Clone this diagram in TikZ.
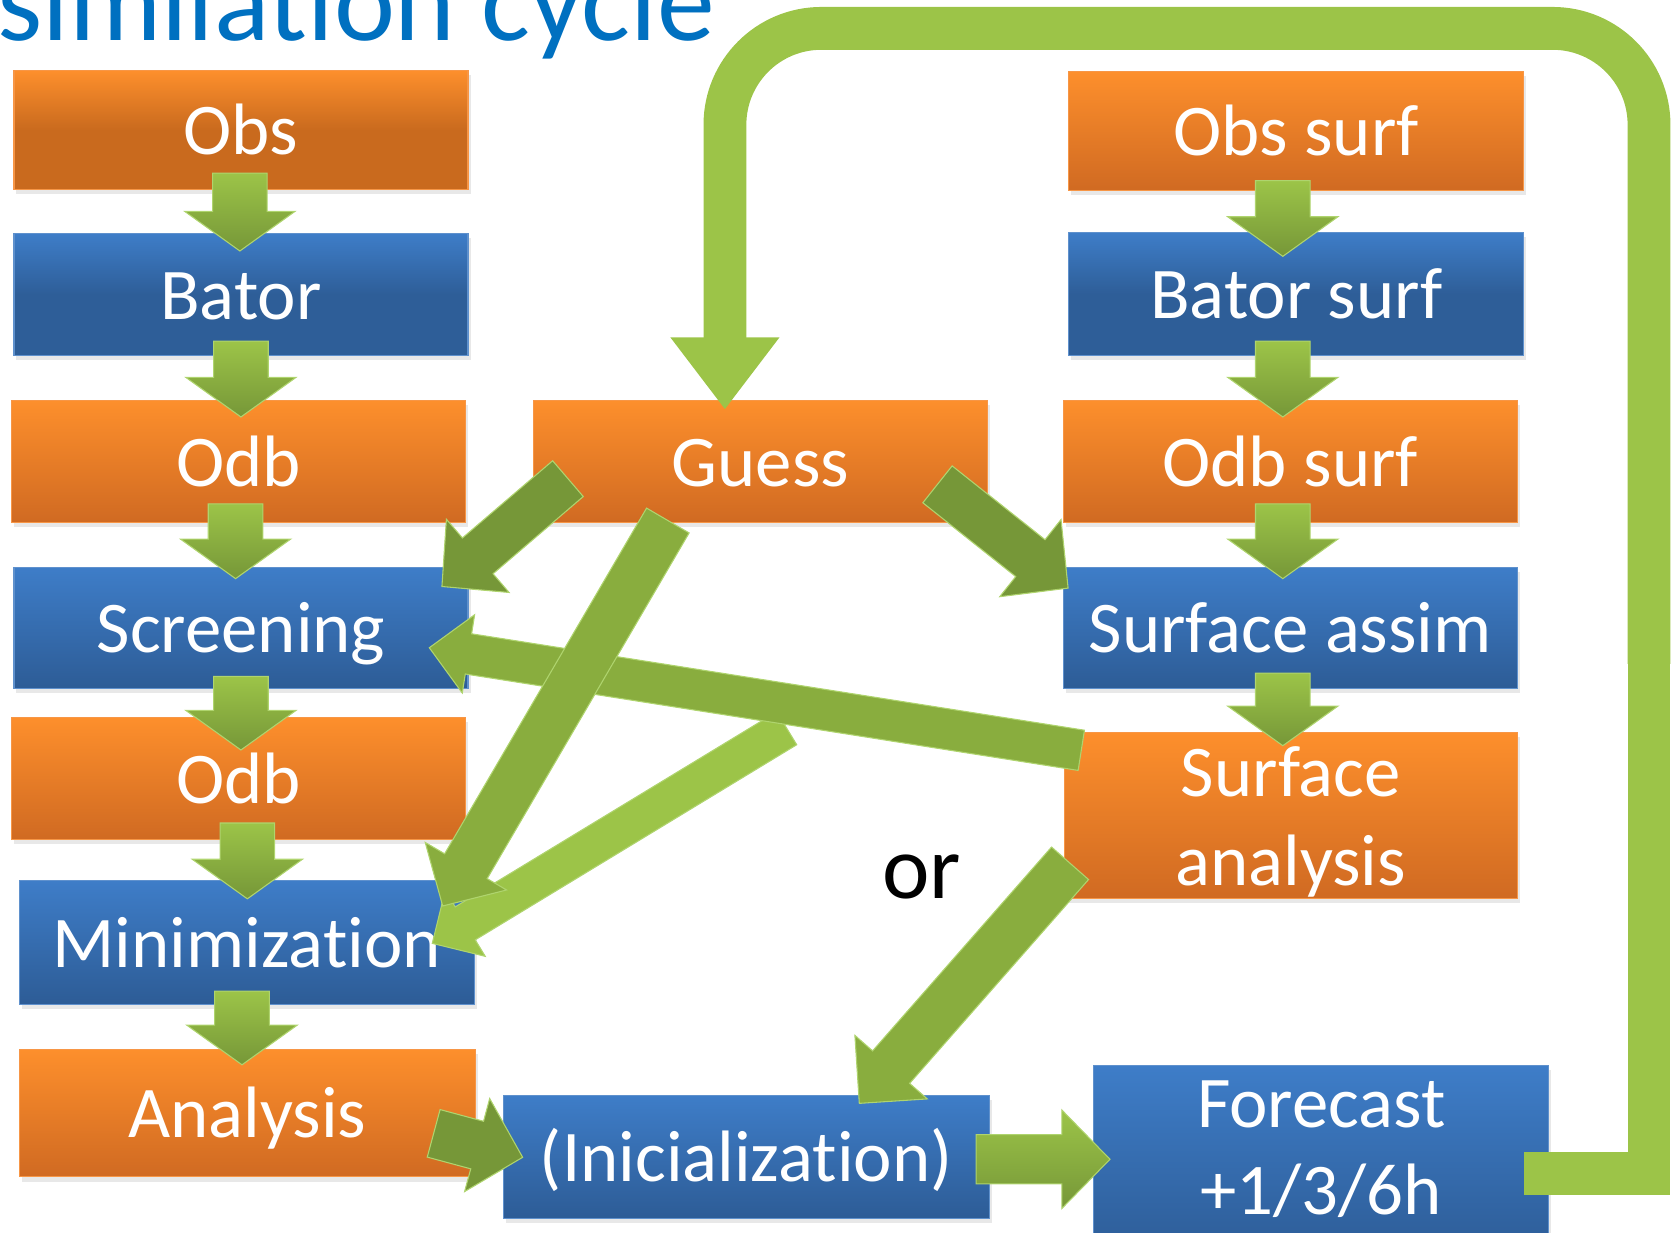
\documentclass[tikz,border=0pt]{standalone}
\usepackage{fontspec}
\setmainfont{Carlito}[Ligatures={NoCommon,NoContextual}]
\usetikzlibrary{calc,shadows}
\definecolor{titleblue}{RGB}{0,112,192}
\definecolor{orTop}{RGB}{253,143,44}
\definecolor{orBot}{RGB}{208,106,34}
\definecolor{orDark}{RGB}{201,106,30}
\definecolor{orEdge}{RGB}{247,150,70}
\definecolor{blTop}{RGB}{62,125,200}
\definecolor{blBot}{RGB}{45,92,150}
\definecolor{blDark}{RGB}{46,94,152}
\definecolor{blEdge}{RGB}{95,145,205}
\definecolor{gLight}{RGB}{156,196,72}
\definecolor{gMid}{RGB}{137,173,62}
\definecolor{gDark}{RGB}{118,151,56}
\definecolor{gEdge}{RGB}{175,212,110}
\newcommand\boxfont{\fontsize{34pt}{41pt}\selectfont}
\newcommand\titlefont{\fontsize{54pt}{60pt}\selectfont}
\newcommand\orfont{\fontsize{42pt}{48pt}\selectfont}
% block arrow: #1 style, #2 tail, #3 tip, #4 shaft half width, #5 head half width, #6 head length (display px)
\newcommand\blockarrow[6]{%
  \path[#1] let \p1=($(#3)-(#2)$), \n1={veclen(\x1,\y1)}, \n2={atan2(\y1,\x1)} in
    [shift={(#2)}, rotate=\n2]
    (0pt,{-#4*0.5pt}) -- ({\n1-#6*0.5pt},{-#4*0.5pt}) -- ({\n1-#6*0.5pt},{-#5*0.5pt})
    -- ({\n1+0pt},0pt) -- ({\n1-#6*0.5pt},{#5*0.5pt}) -- ({\n1-#6*0.5pt},{#4*0.5pt})
    -- (0pt,{#4*0.5pt}) -- cycle;}
% vertical block arrow with shading: #1 style, #2 tail, #3 tip
\newcommand\downblock[3]{%
  \path[#1] let \p1=(#2), \p2=(#3) in
    (\x1-12.75pt,\y1) -- (\x1-12.75pt,\y2+18.5pt) -- (\x1-25.75pt,\y2+18.5pt) -- (\x1,\y2)
    -- (\x1+25.75pt,\y2+18.5pt) -- (\x1+12.75pt,\y2+18.5pt) -- (\x1+12.75pt,\y1) -- cycle;}
% horizontal block arrow with shading: #1 style, #2 tail, #3 tip
\newcommand\rightblock[3]{%
  \path[#1] let \p1=(#2), \p2=(#3) in
    (\x1,\y1+11.5pt) -- (\x2-22.5pt,\y1+11.5pt) -- (\x2-22.5pt,\y1+23pt) -- (\x2,\y1)
    -- (\x2-22.5pt,\y1-23pt) -- (\x2-22.5pt,\y1-11.5pt) -- (\x1,\y1-11.5pt) -- cycle;}
\begin{document}
\begin{tikzpicture}[x=0.5pt, y=-0.5pt,
  boxbase/.style={rectangle, minimum width=212pt, inner sep=0pt, line width=0.6pt,
     text=white, font=\boxfont, text height=27.9pt, text depth=4.8pt,
     drop shadow={opacity=0.18, shadow xshift=1.2pt, shadow yshift=-2.2pt}},
  obox/.style={boxbase, top color=orTop, bottom color=orBot, draw=orEdge},
  bbox/.style={boxbase, top color=blTop, bottom color=blBot, draw=blEdge},
  odark/.style={top color=orTop, bottom color=orDark, middle color=orDark},
  bdark/.style={top color=blTop, bottom color=blDark, middle color=blDark},
  btext/.style={anchor=base, text=white, font=\boxfont, inner sep=0pt},
  darr/.style={top color=gLight, bottom color=gDark, draw=gEdge, line width=0.5pt},
  harr/.style={top color=gLight, bottom color=gDark, draw=gEdge, line width=0.5pt},
  barr/.style={fill=#1, draw=gEdge, line width=0.5pt},
  loopband/.style={draw=gLight, line width=20pt}
]
\useasboundingbox (0,0) rectangle (1568,1151);
\clip (0,0) rectangle (1568,1151);

% title
\node[anchor=base east, inner sep=0pt, text=titleblue, font=\titlefont] (title) at (668,38) {similation cycle};

% left column
\node[obox, odark, minimum height=55.5pt] (obs) at (225,121.5) {Obs};
\node[bbox, bdark, minimum height=57pt] (bator) at (225,275) {Bator};
\node[obox, minimum height=57pt] (odbA) at (223,431) {Odb};
\node[bbox, minimum height=56.5pt] (scr) at (225,586.5) {Screening};
\node[obox, minimum height=57pt] (odbB) at (223,727) {Odb};
\node[bbox, minimum width=212.5pt, minimum height=58pt] (mini) at (230.5,880) {Minimization};
\node[obox, minimum width=213pt, minimum height=59.5pt] (ana) at (231,1039.5) {Analysis};
% middle
\node[obox, minimum height=57pt] (guess) at (710,431) {Guess};
\node[bbox, minimum width=227pt, minimum height=57.5pt] (init) at (697,1080.5) {(Inicialization)};
% right column
\node[obox, minimum width=212.5pt, minimum height=55.5pt] (obss) at (1210.5,122.5) {Obs surf};
\node[bbox, bdark, minimum width=212.5pt, minimum height=57.5pt] (bators) at (1210.5,274.5) {Bator surf};
\node[obox, minimum height=57pt] (odbs) at (1205,431) {Odb surf};
\node[bbox, minimum height=56.5pt] (sas) at (1205,586.5) {Surface assim};
\node[obox, minimum width=211.5pt, minimum height=77.5pt] (san) at (1205.5,761.5) {};
\node[btext] (sanA) at (1205.5,744) {Surface};
\node[btext] (sanB) at (1205.5,826.5) {analysis};
\node[bbox, minimum width=212.5pt, minimum height=90pt] (fc) at (1233.5,1085) {};
\node[btext] (fcA) at (1234,1053) {Forecast};
\node[btext] (fcB) at (1234,1134) {+1/3/6h};

% "or"
\node[anchor=base, inner sep=0pt, font=\orfont, text=black] (or) at (861,839) {or};

% small down arrows
\coordinate (d1t) at ($(obs.south)+(-1,-16)$);   \coordinate (d1h) at ($(bator.north)+(-1,17)$);
\coordinate (d2t) at ($(bator.south)+(0,-14)$);  \coordinate (d2h) at ($(odbA.north)+(2,16)$);
\coordinate (d3t) at ($(odbA.south)+(-3,-18)$);  \coordinate (d3h) at ($(scr.north)+(-5,11)$);
\coordinate (d4t) at ($(scr.south)+(0,-12)$);    \coordinate (d4h) at ($(odbB.north)+(2,31)$);
\coordinate (d5t) at ($(odbB.south)+(8,-16)$);   \coordinate (d5h) at ($(mini.north)+(0,18)$);
\coordinate (d6t) at ($(mini.south)+(-4.5,-13)$);\coordinate (d6h) at ($(ana.north)+(-5,15)$);
\coordinate (d7t) at ($(obss.south)+(-12.5,-10)$); \coordinate (d7h) at ($(bators.north)+(-12.5,23)$);
\coordinate (d8t) at ($(bators.south)+(-12.5,-14)$); \coordinate (d8h) at ($(odbs.north)+(-7,16)$);
\coordinate (d9t) at ($(odbs.south)+(-7,-18)$);  \coordinate (d9h) at ($(sas.north)+(-7,11)$);
\coordinate (d10t) at ($(sas.south)+(-7,-15)$);  \coordinate (d10h) at ($(san.north)+(-7,13)$);
\downblock{darr}{d1t}{d1h}
\downblock{darr}{d2t}{d2h}
\downblock{darr}{d3t}{d3h}
\downblock{darr}{d4t}{d4h}
\downblock{darr}{d5t}{d5h}
\downblock{darr}{d6t}{d6h}
\downblock{darr}{d7t}{d7h}
\downblock{darr}{d8t}{d8h}
\downblock{darr}{d9t}{d9h}
\downblock{darr}{d10t}{d10h}

% diagonal block arrows
\coordinate (aT) at (530.4,447.0);  \coordinate (aH) at (412.5,547.9);
\coordinate (bT) at (875.5,452.3);  \coordinate (bH) at (997.7,549.4);
\coordinate (cT) at (623.7,486.1);  \coordinate (cH) at (413.4,846.1);
\coordinate (dT) at (734.7,680.1);  \coordinate (dH) at (403.7,881.0);
\coordinate (eT) at (1009.8,700.7); \coordinate (eH) at (400.9,604.9);
\coordinate (fT) at (999.3,806.2);  \coordinate (fH) at (802.5,1030.4);
\coordinate (gT) at (405.0,1058.4); \coordinate (gH) at (488.1,1080.8);
\coordinate (hT) at (911.5,1082.6); \coordinate (hH) at (1036.6,1082.6);

\blockarrow{barr=gDark}{aT}{aH}{22}{45}{44}
\blockarrow{barr=gDark}{bT}{bH}{22}{46}{45}
\blockarrow{barr=gLight}{dT}{dH}{18}{36}{36}
\blockarrow{barr=gMid}{eT}{eH}{19}{37}{37}
\blockarrow{barr=gMid}{cT}{cH}{23}{44}{43}
\blockarrow{barr=gMid}{fT}{fH}{23}{45}{45}
\blockarrow{barr=gDark}{gT}{gH}{23}{45}{44}
\rightblock{harr}{hT}{hH}

% feedback loop Forecast -> Guess
\coordinate (L0) at ($(fc.east)+(-23,11)$);
\coordinate (L1) at (1540,1096);
\coordinate (L2) at (1540,600);
\coordinate (L3) at (1540,26.5);
\coordinate (L4) at (677,26.5);
\coordinate (L5) at (677,317);
\coordinate (LH) at (677,382);
\draw[loopband, line join=miter] (L0) -- (L1) -- (L2);
\draw[loopband, rounded corners=45pt] ($(L2)+(0,20)$) -- (L3) -- (L4) -- (L5);
\path[fill=gLight] ($(L5)+(-51,-2)$) -- (LH) -- ($(L5)+(51,-2)$) -- cycle;
\end{tikzpicture}
\end{document}
